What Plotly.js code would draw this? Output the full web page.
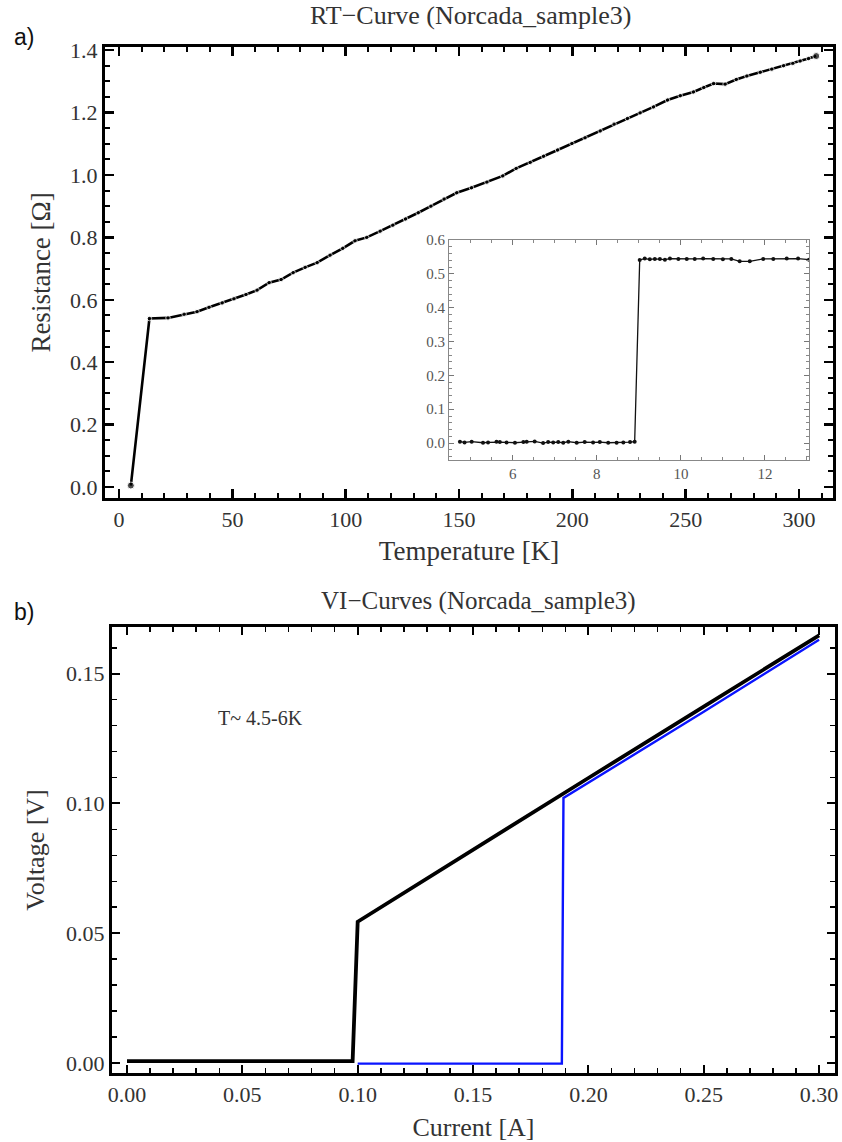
<!DOCTYPE html>
<html>
<head>
<meta charset="utf-8">
<script src="https://cdn.plot.ly/plotly-3.0.1.min.js"></script>
<style>
  html, body { margin: 0; padding: 0; background: #fff; }
  #chart { width: 842px; height: 1142px; }
</style>
</head>
<body>
<div id="chart"></div>
<script>
// ---- Panel a: RT curve (main) ----
const rtTemp = [5.2, 13.4, 21.6, 28.7, 34.4, 39.7, 45.5, 50.7, 56.0, 60.9, 66.2, 71.5, 76.8, 82.1, 87.4, 93.1, 98.7,
  104.1, 109.3, 115.2, 120.8, 126.4, 132.0, 137.6, 143.4, 149.0, 155.5, 162.3, 169.3, 175.2, 181.4, 187.3, 193.5,
  199.8, 205.6, 212.3, 218.4, 224.3, 229.9, 235.8, 242.0, 247.6, 253.4, 258.0, 262.3, 267.4, 272.3, 277.0, 282.9,
  288.0, 293.2, 297.3, 300.5, 304.2, 307.6];
const rtRes = [0.005, 0.540, 0.542, 0.554, 0.562, 0.576, 0.590, 0.603, 0.617, 0.631, 0.655, 0.665, 0.687, 0.704, 0.719, 0.743, 0.765,
  0.789, 0.800, 0.820, 0.839, 0.859, 0.879, 0.900, 0.923, 0.943, 0.959, 0.977, 0.997, 1.021, 1.040, 1.060, 1.080,
  1.101, 1.119, 1.141, 1.163, 1.181, 1.199, 1.218, 1.240, 1.254, 1.266, 1.280, 1.293, 1.291, 1.306, 1.317, 1.329,
  1.339, 1.350, 1.357, 1.365, 1.373, 1.381];

// ---- Panel a inset: transition region ----
const inTemp = [4.74, 4.85, 5.02, 5.29, 5.41, 5.61, 5.69, 5.85, 6.05, 6.25, 6.33, 6.52, 6.72, 6.84, 6.96, 7.08, 7.20, 7.32,
  7.52, 7.71, 7.91, 8.07, 8.27, 8.47, 8.63, 8.79, 8.90,
  9.02, 9.14, 9.26, 9.38, 9.50, 9.62, 9.74, 9.94, 10.14, 10.33, 10.53, 10.77, 11.00, 11.20, 11.40, 11.64, 11.96,
  12.20, 12.52, 12.79, 13.05];
const inRes = [0.004, 0.002, 0.004, 0.001, 0.002, 0.004, 0.003, 0.002, 0.001, 0.003, 0.004, 0.005, 0.000, 0.003, 0.002, 0.003, 0.001, 0.004,
  0.001, 0.003, 0.002, 0.003, 0.001, 0.001, 0.002, 0.003, 0.004,
  0.541, 0.545, 0.543, 0.544, 0.544, 0.542, 0.545, 0.544, 0.544, 0.544, 0.545, 0.544, 0.543, 0.544, 0.537, 0.537, 0.544,
  0.544, 0.545, 0.545, 0.542];

// ---- Panel b: VI curves ----
const viCurBlack = [0.000, 0.050, 0.0978, 0.1000, 0.150, 0.200, 0.250, 0.300];
const viVolBlack = [0.0007, 0.0007, 0.0007, 0.0544, 0.0822, 0.1098, 0.1373, 0.1648];
const viCurBlue = [0.1000, 0.150, 0.1885, 0.1892, 0.250, 0.300];
const viVolBlue = [-0.0003, -0.0003, -0.0003, 0.1021, 0.1353, 0.1631];

const rtTitle = "RT\u2212Curve (Norcada_sample3)";
const viTitle = "VI\u2212Curves (Norcada_sample3)";
const noteText = "T~ 4.5-6K";

const serif = '"Liberation Serif", "Times New Roman", serif';
const sans = '"Liberation Sans", Arial, sans-serif';
const W = 842, H = 1142;
const px = v => v / W;
const py = v => 1 - v / H;

const traces = [
  { x: rtTemp, y: rtRes, xaxis: 'x', yaxis: 'y', type: 'scatter', mode: 'lines+markers',
    line: { color: '#000', width: 2.6 },
    marker: { color: '#000', size: rtTemp.map((t, i) => (i === 0 || i === rtTemp.length - 1) ? 7 : 4.5) },
    hoverinfo: 'skip', showlegend: false },
  { x: inTemp, y: inRes, xaxis: 'x2', yaxis: 'y2', type: 'scatter', mode: 'lines+markers',
    line: { color: '#111', width: 1.3 },
    marker: { color: '#111', size: 4 },
    hoverinfo: 'skip', showlegend: false },
  { x: viCurBlue, y: viVolBlue, xaxis: 'x3', yaxis: 'y3', type: 'scatter', mode: 'lines',
    line: { color: '#0a14ff', width: 2.4 }, hoverinfo: 'skip', showlegend: false },
  { x: viCurBlack, y: viVolBlack, xaxis: 'x3', yaxis: 'y3', type: 'scatter', mode: 'lines',
    line: { color: '#000', width: 3.8 }, hoverinfo: 'skip', showlegend: false }
];

function frameAxis(opts) {
  return Object.assign({
    showline: true, linecolor: '#000', mirror: 'allticks', ticks: 'inside',
    tickcolor: '#000', showgrid: false, zeroline: false, fixedrange: true,
    tickfont: { family: serif, size: 22, color: '#333' }
  }, opts);
}

const layout = {
  width: W, height: H,
  margin: { l: 0, r: 0, t: 0, b: 0 },
  paper_bgcolor: '#fff', plot_bgcolor: '#fff',
  showlegend: false,
  font: { family: serif, color: '#333' },
  xaxis: frameAxis({ domain: [px(105), px(833)], range: [-6.2, 315], anchor: 'y',
    linewidth: 3, tickmode: 'linear', tick0: 0, dtick: 50, ticklen: 9, tickwidth: 2.5,
    minor: { dtick: 10, ticklen: 5, tickwidth: 2, ticks: 'inside', tickcolor: '#000' },
    title: { text: 'Temperature [K]', font: { family: serif, size: 27, color: '#333' }, standoff: 10 } }),
  yaxis: frameAxis({ domain: [py(498), py(47)], range: [-0.035, 1.41], anchor: 'x',
    linewidth: 3, tickmode: 'linear', tick0: 0, dtick: 0.2, tickformat: '.1f', ticklen: 9, tickwidth: 2.5,
    minor: { dtick: 0.05, ticklen: 5, tickwidth: 2, ticks: 'inside', tickcolor: '#000' },
    title: { text: 'Resistance [\u03a9]', font: { family: serif, size: 27, color: '#333' }, standoff: 12 } }),
  xaxis2: frameAxis({ domain: [px(449), px(809)], range: [4.48, 13.05], anchor: 'y2',
    linewidth: 1, linecolor: '#888', tickcolor: '#777', tickmode: 'linear', tick0: 0, dtick: 2,
    ticklen: 5, tickwidth: 1,
    minor: { dtick: 0.5, ticklen: 3, tickwidth: 1, ticks: 'inside', tickcolor: '#888' },
    tickfont: { family: serif, size: 15, color: '#555' } }),
  yaxis2: frameAxis({ domain: [py(460), py(240)], range: [-0.05, 0.6], anchor: 'x2',
    linewidth: 1, linecolor: '#888', tickcolor: '#777', tickmode: 'linear', tick0: 0, dtick: 0.1, tickformat: '.1f',
    ticklen: 5, tickwidth: 1,
    minor: { dtick: 0.02, ticklen: 3, tickwidth: 1, ticks: 'inside', tickcolor: '#888' },
    tickfont: { family: serif, size: 15, color: '#555' } }),
  xaxis3: frameAxis({ domain: [px(112), px(835)], range: [-0.0065, 0.3069], anchor: 'y3',
    linewidth: 3, tickmode: 'linear', tick0: 0, dtick: 0.05, tickformat: '.2f', ticklen: 8, tickwidth: 2,
    minor: { dtick: 0.01, ticklen: 5, tickwidth: 1.5, ticks: 'inside', tickcolor: '#000' },
    title: { text: 'Current [A]', font: { family: serif, size: 26, color: '#333' }, standoff: 12 } }),
  yaxis3: frameAxis({ domain: [py(1073), py(627)], range: [-0.0039, 0.168], anchor: 'x3',
    linewidth: 3, tickmode: 'linear', tick0: 0, dtick: 0.05, tickformat: '.2f', ticklen: 8, tickwidth: 2,
    minor: { dtick: 0.01, ticklen: 5, tickwidth: 1.5, ticks: 'inside', tickcolor: '#000' },
    title: { text: 'Voltage [V]', font: { family: serif, size: 26, color: '#333' }, standoff: 14 } }),
  annotations: [
    { text: rtTitle, xref: 'paper', yref: 'paper', x: px(470), y: py(15), xanchor: 'center', yanchor: 'middle',
      showarrow: false, font: { family: serif, size: 26, color: '#333' } },
    { text: viTitle, xref: 'paper', yref: 'paper', x: px(478), y: py(601), xanchor: 'center', yanchor: 'middle',
      showarrow: false, font: { family: serif, size: 25, color: '#333' } },
    { text: 'a)', xref: 'paper', yref: 'paper', x: px(12), y: py(37), xanchor: 'left', yanchor: 'middle',
      showarrow: false, font: { family: sans, size: 23, color: '#111' } },
    { text: 'b)', xref: 'paper', yref: 'paper', x: px(12), y: py(612), xanchor: 'left', yanchor: 'middle',
      showarrow: false, font: { family: sans, size: 23, color: '#111' } },
    { text: noteText, xref: 'x3', yref: 'y3', x: 0.058, y: 0.133, xanchor: 'center', yanchor: 'middle',
      showarrow: false, font: { family: serif, size: 20, color: '#333' } }
  ]
};

Plotly.newPlot('chart', traces, layout, { staticPlot: true, displayModeBar: false });
</script>
</body>
</html>
